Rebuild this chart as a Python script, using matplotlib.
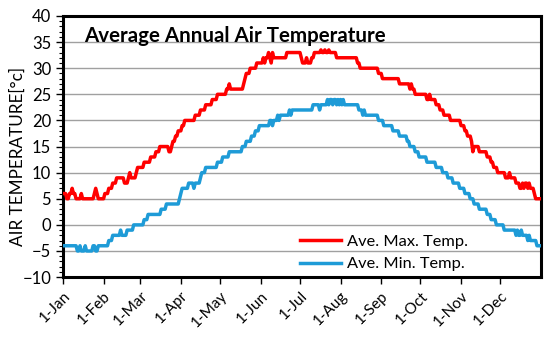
import matplotlib.pyplot as plt
import numpy as np
from matplotlib.ticker import MultipleLocator

plt.rcParams['font.family'] = ['Lato', 'DejaVu Sans']

# daily averages, one line per month
ave_max = (
    [6, 6, 6, 5, 5, 6, 6, 7, 6, 6, 5, 5, 5, 5, 6, 5, 5, 5, 5, 5, 5, 5, 5, 5, 6, 7, 6, 5, 5, 5, 5]  # Jan
    + [5, 6, 6, 6, 7, 7, 7, 8, 8, 8, 9, 9, 9, 9, 9, 9, 8, 8, 8, 9, 10, 9, 9, 9, 9, 10, 11, 11]  # Feb
    + [11, 11, 11, 12, 12, 12, 12, 12, 13, 13, 13, 13, 14, 14, 14, 15, 15, 15, 15, 15, 15, 15, 14, 14, 15, 16, 16, 17, 17, 18, 18]  # Mar
    + [18, 19, 19, 20, 20, 20, 20, 20, 20, 20, 20, 21, 21, 21, 21, 22, 22, 22, 22, 23, 23, 23, 23, 23, 24, 24, 24, 24, 25, 25]  # Apr
    + [25, 25, 25, 25, 25, 26, 26, 27, 26, 26, 26, 26, 26, 26, 26, 26, 26, 26, 27, 28, 29, 29, 29, 30, 30, 30, 30, 30, 31, 31, 31]  # May
    + [31, 31, 32, 31, 32, 32, 33, 32, 31, 33, 32, 32, 32, 32, 32, 32, 32, 32, 32, 32, 33, 33, 33, 33, 33, 33, 33, 33, 33, 33]  # Jun
    + [33, 32, 31, 31, 31, 32, 31, 31, 31, 32, 32, 33, 33, 33, 33, 33, 33.5, 33, 33, 33.5, 33, 33, 33.5, 33, 33, 33, 33, 33, 32, 32, 32]  # Jul
    + [32, 32, 32, 32, 32, 32, 32, 32, 32, 32, 32, 32, 32, 31, 31, 30, 30, 30, 30, 30, 30, 30, 30, 30, 30, 30, 30, 30, 30, 29, 29]  # Aug
    + [29, 28, 28, 28, 28, 28, 28, 28, 28, 28, 28, 28, 28, 28, 27, 27, 27, 27, 27, 27, 27, 27, 26, 27, 26, 26, 25, 25, 25, 25]  # Sep
    + [25, 25, 25, 25, 25, 24, 24, 25, 24, 24, 24, 24, 23, 23, 23, 22, 22, 22, 21, 21, 21, 21, 21, 20, 20, 20, 20, 20, 20, 20, 20]  # Oct
    + [19, 19, 19, 18, 18, 17, 17, 17, 16, 14, 15, 15, 15, 15, 14, 14, 14, 14, 14, 14, 13, 13, 13, 12, 12, 11, 11, 11, 10, 10]  # Nov
    + [10, 10, 10, 10, 9, 9, 9, 10, 9, 9, 9, 9, 8, 8, 8, 7, 7, 8, 7, 8, 8, 7, 8, 7, 7, 7, 6, 5, 5, 5, 5]  # Dec
)

ave_min = (
    [-4, -4, -4, -4, -4, -4, -4, -4, -4, -4, -4, -5, -5, -4, -5, -5, -5, -4, -5, -5, -5, -5, -5, -4, -4, -5, -5, -4, -4, -4, -4]  # Jan
    + [-4, -4, -4, -4, -3, -3, -3, -2, -2, -2, -2, -2, -2, -1, -2, -2, -2, -2, -1, -1, -1, -1, -1, 0, 0, 0, 0, 0]  # Feb
    + [0, 0, 0, 1, 1, 1, 2, 2, 2, 2, 2, 2, 2, 2, 2, 2, 3, 3, 3, 3, 4, 4, 4, 4, 4, 4, 4, 4, 4, 4, 5]  # Mar
    + [6, 7, 7, 7, 7, 7, 8, 8, 8, 8, 7, 8, 8, 8, 8, 9, 10, 10, 10, 11, 11, 11, 11, 11, 11, 11, 11, 11, 12, 12]  # Apr
    + [12, 12, 13, 13, 13, 13, 13, 14, 14, 14, 14, 14, 14, 14, 14, 14, 14, 15, 15, 15, 16, 16, 16, 16, 17, 17, 17, 18, 18, 18, 19]  # May
    + [19, 19, 19, 19, 19, 19, 19, 20, 20, 19, 20, 20, 20, 21, 20, 21, 21, 21, 21, 21, 21, 21, 22, 21, 22, 22, 22, 22, 22, 22]  # Jun
    + [22, 22, 22, 22, 22, 22, 22, 22, 22, 22, 23, 23, 23, 23, 23, 22, 23, 23, 23, 23, 23, 24, 23, 24, 24, 23, 24, 24, 23, 24, 23]  # Jul
    + [24, 23, 24, 23, 23, 23, 23, 23, 23, 23, 23, 23, 23, 23, 22, 22, 22, 21, 22, 21, 21, 21, 21, 21, 21, 21, 21, 21, 21, 20, 20]  # Aug
    + [20, 20, 19, 19, 19, 19, 19, 19, 19, 18, 18, 18, 18, 18, 17, 17, 17, 17, 17, 17, 16, 16, 15, 15, 15, 15, 14, 14, 14, 13]  # Sep
    + [13, 13, 13, 13, 13, 12, 12, 12, 12, 12, 12, 12, 11, 11, 11, 11, 11, 10, 10, 10, 10, 9, 9, 9, 9, 8, 8, 8, 8, 8, 7]  # Oct
    + [7, 7, 7, 6, 6, 6, 6, 5, 5, 5, 4, 4, 4, 4, 3, 3, 3, 3, 3, 3, 2, 2, 2, 1, 1, 1, 1, 0, 0, 0]  # Nov
    + [0, 0, 0, -1, -1, -1, -1, -1, -1, -1, -1, -1, -2, -1, -2, -2, -1, -2, -2, -2, -2, -3, -2, -3, -3, -3, -3, -3, -4, -4, -4]  # Dec
)

month_labels = ['1-Jan', '1-Feb', '1-Mar', '1-Apr', '1-May', '1-Jun',
                '1-Jul', '1-Aug', '1-Sep', '1-Oct', '1-Nov', '1-Dec']
month_days = [31, 28, 31, 30, 31, 30, 31, 31, 30, 31, 30, 31]

days = np.arange(len(ave_max))
month_starts = np.concatenate([[0], np.cumsum(month_days)[:-1]])

fig = plt.figure(figsize=(5.5, 3.4), dpi=100)
ax = fig.add_axes((0.1145, 0.185, 0.869, 0.768))

ax.plot(days, ave_max, color='#FF0000', linewidth=2.5, label='Ave. Max. Temp.', zorder=3)
ax.plot(days, ave_min, color='#1E9BD7', linewidth=2.5, label='Ave. Min. Temp.', zorder=3)

ax.set_xlim(0, 365)
ax.set_ylim(-10, 40)
ax.yaxis.set_major_locator(MultipleLocator(5))
ax.yaxis.set_minor_locator(MultipleLocator(1))
ax.set_xticks(month_starts)
ax.set_xticklabels(month_labels, rotation=45, ha='right', rotation_mode='anchor', fontsize=11)
ax.tick_params(axis='y', labelsize=12, direction='out', length=5, width=1, color='black')
ax.tick_params(axis='y', which='minor', direction='out', length=3, width=0.8)
ax.tick_params(axis='x', direction='out', length=5, width=1)

ax.grid(axis='y', color='#A0A0A0', linewidth=1)
ax.set_axisbelow(True)
for s in ax.spines.values():
    s.set_linewidth(2.2)
    s.set_color('black')

ax.set_ylabel('AIR TEMPERATURE[°c]', fontsize=12.3)
ax.yaxis.set_label_coords(-0.078, 0.46)
ax.text(0.044, 0.925, 'Average Annual Air Temperature', transform=ax.transAxes,
        fontsize=14.8, fontweight='bold', va='center', ha='left')

ax.legend(loc='lower left', frameon=False, fontsize=11.8, handlelength=2.5,
          handletextpad=0.35, bbox_to_anchor=(0.465, -0.035), labelspacing=0.5)

fig.savefig('out.png', dpi=100)
